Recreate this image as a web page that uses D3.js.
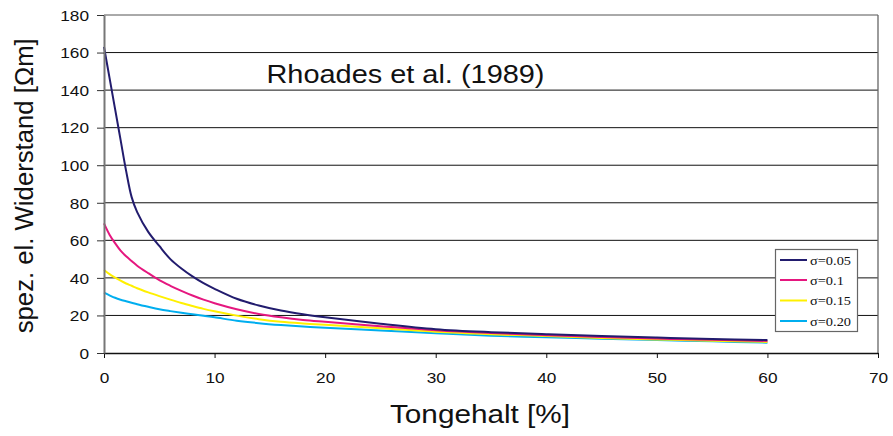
<!DOCTYPE html>
<html><head><meta charset="utf-8">
<script src="https://cdn.jsdelivr.net/npm/d3@7"></script>
<style>
html,body{margin:0;padding:0;background:#fff;}
text{font-family:"Liberation Sans",Arial,sans-serif;fill:#111;}
</style></head>
<body>
<svg id="c" width="893" height="436"></svg>
<script>
const xTicks = [0,10,20,30,40,50,60,70];
const yTicks = [0,20,40,60,80,100,120,140,160,180];
const tongehalt = [0,0.5,1,1.5,2,2.5,3,4,5,6,7,8,9,10,12,14,16,18,20,25,30,35,40,45,50,55,60];
const sigma005 = [163,146.5,130,113.5,97,83,75,64.5,57,50,45,40.8,37.2,34.2,28.9,25.3,22.6,20.6,19,15.6,12.7,11.1,10,9.0,8.2,7.5,6.9];
const sigma010 = [69,63,58.5,54.5,51.5,49,46.5,42.5,38.8,35.8,33.1,30.6,28.4,26.5,23.3,20.8,19.0,17.6,16.6,14.3,12.1,10.6,9.5,8.5,7.7,7.0,6.4];
const sigma015 = [44.2,42,40.2,38.5,37,35.8,34.5,32.3,30.3,28.4,26.6,25.0,23.5,22.2,19.9,18.0,16.6,15.7,15.0,13.2,11.3,10.0,9.0,8.0,7.2,6.5,5.9];
const sigma020 = [32.1,30.7,29.4,28.4,27.6,26.8,26,24.6,23.3,22.3,21.4,20.6,19.8,19.0,17.2,15.9,14.9,14.1,13.5,12.0,10.5,9.2,8.4,7.6,6.9,6.2,5.5];
const seriesNames = ["σ=0.05","σ=0.1","σ=0.15","σ=0.20"];
const seriesColors = ["#221c6e","#e5177f","#fff000","#00aeef"];
const titleText = "Rhoades et al. (1989)";
const xTitle = "Tongehalt [%]";
const yTitle = "spez. el. Widerstand [Ωm]";

const allSeries = [sigma005, sigma010, sigma015, sigma020];
const svg = d3.select("#c");
const L = 104, R = 878, T = 15, B = 353;
const x = d3.scaleLinear().domain([0,70]).range([L,R]);
const y = d3.scaleLinear().domain([0,180]).range([B,T]);

// gridlines
svg.append("g").selectAll("line").data(yTicks.filter(v=>v>0)).join("line")
  .attr("x1",L).attr("x2",R).attr("y1",d=>y(d)).attr("y2",d=>y(d))
  .attr("stroke",d=>d===180?"#555":"#111").attr("stroke-width",1);
// right border
svg.append("line").attr("x1",R).attr("x2",R).attr("y1",T).attr("y2",B).attr("stroke","#666").attr("stroke-width",1.3);

// curves
const line = d3.line().x((d,i)=>x(tongehalt[i])).y(d=>y(d)).curve(d3.curveCatmullRom.alpha(0.5));
allSeries.slice().reverse().forEach((s,k)=>{
  const i = allSeries.length-1-k;
  svg.append("path").datum(s).attr("d",line).attr("fill","none")
    .attr("stroke",seriesColors[i]).attr("stroke-width",2);
});

// axes
const sx = 1.15;
const ax = svg.append("g").attr("transform",`translate(0,${B})`)
  .call(d3.axisBottom(x).tickValues(xTicks).tickSize(5).tickSizeOuter(0));
ax.select(".domain").attr("stroke","#111").attr("stroke-width",1.3);
ax.selectAll(".tick line").attr("stroke","#111");
ax.selectAll(".tick text").attr("y",0).attr("dy",0)
  .attr("transform",`translate(0,30) scale(${sx},1)`)
  .style("font-size","15px").attr("fill","#111");

const ay = svg.append("g").attr("transform",`translate(${L},0)`)
  .call(d3.axisLeft(y).tickValues(yTicks).tickSize(7).tickSizeOuter(0));
ay.select(".domain").attr("stroke","#777").attr("stroke-width",2);
ay.selectAll(".tick line").attr("stroke","#333");
ay.selectAll(".tick text").attr("x",0).attr("dy","0.35em")
  .attr("transform",`translate(-15,0) scale(${sx},1)`)
  .style("font-size","15px").attr("fill","#111");

// titles
svg.append("text").attr("x",266.5).attr("y",82.5).attr("textLength",278)
  .attr("lengthAdjust","spacingAndGlyphs").style("font-size","25.5px").text(titleText);
svg.append("text").attr("x",480).attr("y",423).attr("text-anchor","middle")
  .attr("textLength",180).attr("lengthAdjust","spacingAndGlyphs")
  .style("font-size","25.5px").text(xTitle);
svg.append("text").attr("transform","translate(33,185.8) scale(1.05,1) rotate(-90)")
  .attr("text-anchor","middle").attr("textLength",295).attr("lengthAdjust","spacingAndGlyphs")
  .style("font-size","25px").text(yTitle);

// legend
const lg = svg.append("g");
lg.append("rect").attr("x",775.5).attr("y",249.5).attr("width",82).attr("height",82)
  .attr("fill","#fff").attr("stroke","#666").attr("stroke-width",1.2);
const rowY = [260,280,300.5,321];
seriesNames.forEach((n,i)=>{
  lg.append("line").attr("x1",780).attr("x2",807).attr("y1",rowY[i]).attr("y2",rowY[i])
    .attr("stroke",seriesColors[i]).attr("stroke-width",2);
  lg.append("text").attr("transform",`translate(810,${rowY[i]+4.5}) scale(${sx},1)`)
    .style("font-family","'Liberation Serif','Times New Roman',serif").style("font-size","12.5px")
    .text(n);
});
</script>
</body></html>
